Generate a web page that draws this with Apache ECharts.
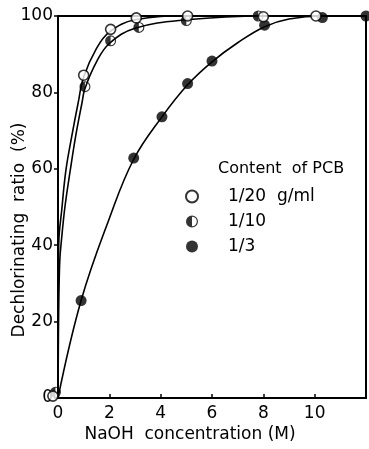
<!DOCTYPE html>
<html>
<head>
<meta charset="utf-8">
<script src="https://cdn.jsdelivr.net/npm/echarts@6/dist/echarts.min.js"></script>
<style>
  html, body { margin: 0; padding: 0; background: #fff; }
  #main { width: 369px; height: 449px; }
</style>
</head>
<body>
<div id="main"></div>
<script>
// measured points (NaOH M, dechlorinating %)
const pts20 = [[-0.2, 0.5], [1, 84.5], [2.05, 96.5], [3.05, 99.5], [5.05, 100], [8, 99.8], [10.05, 100]];
const pts10 = [[-0.1, 1.5], [1.05, 81.5], [2.05, 93.5], [3.15, 97], [5, 98.8], [7.8, 100]];
const pts3 = [[0.9, 25.5], [2.95, 62.8], [4.05, 73.6], [5.05, 82.3], [6, 88.2], [8.05, 97.6], [10.3, 99.6], [12, 100]];

// fitted curves
const curve20 = [[0, 0], [0.01, 25], [0.03, 40.6], [0.15, 49.5], [0.31, 59.7], [0.55, 69], [0.78, 77.1], [1, 84], [1.5, 91.5], [2, 95.8], [3, 99], [5, 100], [12, 100]];
const curve10 = [[0, 0], [0.03, 25], [0.07, 36], [0.13, 41], [0.27, 50], [0.48, 59.7], [0.7, 69], [0.93, 77.1], [1.05, 81], [1.5, 88], [2, 92.8], [3, 96.8], [5, 99], [8, 100], [12, 100]];
const curve3 = [[0, 0], [0.9, 25.5], [2, 47], [2.95, 62.5], [4.05, 73.6], [5.05, 82], [6, 88], [7, 93], [8.05, 97.2], [9, 99.2], [10.3, 100], [12, 100]];

const xTicks = [0, 2, 4, 6, 8, 10];
const names = ["1/20  g/ml", "1/10", "1/3"];

const FONT = "DejaVu Sans";
const halfDisc = "path://M0,-10A10,10,0,1,1,0,10A10,10,0,1,1,0,-10ZM0,-8A8,8,0,1,0,0,8A8,8,0,1,0,0,-8ZM0,-8A8,8,0,0,0,0,8Z";

const curveSeries = (data) => ({
  type: "line",
  data: data,
  smooth: 0.4,
  showSymbol: false,
  symbol: "none",
  lineStyle: { color: "#000", width: 1.6 },
  silent: true,
  z: 2,
});

const chart = echarts.init(document.getElementById("main"), null, { renderer: "canvas" });
chart.setOption({
  animation: false,
  backgroundColor: "#fff",
  textStyle: { fontFamily: FONT, color: "#000" },
  grid: {
    left: 58, right: 3, top: 16, bottom: 51,
    outerBoundsMode: "none",
    show: true, borderColor: "#000", borderWidth: 2,
  },
  xAxis: {
    type: "value",
    min: 0, max: 12, interval: 2,
    name: "NaOH  concentration (M)",
    nameLocation: "middle",
    nameGap: 28,
    nameMoveOverlap: false,
    nameTextStyle: { fontSize: 17, color: "#000", fontFamily: FONT, padding: [0, 44, 0, 0] },
    axisLine: { lineStyle: { color: "#000", width: 2 } },
    axisTick: { inside: true, length: 4, lineStyle: { color: "#000", width: 1.5 } },
    axisLabel: {
      fontSize: 17, color: "#000", margin: 7,
      formatter: (v) => (xTicks.includes(v) ? String(v) : ""),
    },
    splitLine: { show: false },
  },
  yAxis: {
    type: "value",
    min: 0, max: 100, interval: 20,
    name: "Dechlorinating  ratio  (%)",
    nameLocation: "middle",
    nameGap: 30,
    nameMoveOverlap: false,
    nameTextStyle: { fontSize: 17, color: "#000", fontFamily: FONT, padding: [0, 46, 0, 0] },
    axisLine: { lineStyle: { color: "#000", width: 2 } },
    axisTick: { length: 4, lineStyle: { color: "#000", width: 1.5 } },
    axisLabel: { fontSize: 17, color: "#000", margin: 5 },
    splitLine: { show: false },
  },
  legend: {
    orient: "vertical",
    left: 180, top: 183,
    itemWidth: 12, itemHeight: 12, itemGap: 8,
    data: names,
    textStyle: { fontSize: 17, color: "#000", fontFamily: FONT, padding: [0, 0, 0, 25] },
  },
  graphic: [{
    type: "text",
    left: 218, top: 161,
    style: { text: "Content  of PCB", font: "16px " + FONT, fill: "#000" },
  }],
  series: [
    curveSeries(curve20),
    curveSeries(curve10),
    curveSeries(curve3),
    {
      name: names[0], type: "scatter", data: pts20, symbol: "circle", symbolSize: 10,
      itemStyle: { color: "#fff", borderColor: "#000", borderWidth: 1.6 }, clip: false, z: 5,
    },
    {
      name: names[1], type: "scatter", data: pts10, symbol: halfDisc, symbolSize: 11,
      itemStyle: { color: "#000" }, clip: false, z: 4,
    },
    {
      name: names[2], type: "scatter", data: pts3, symbol: "circle", symbolSize: 11,
      itemStyle: { color: "#000" }, clip: false, z: 4,
    },
  ],
});
</script>
</body>
</html>
